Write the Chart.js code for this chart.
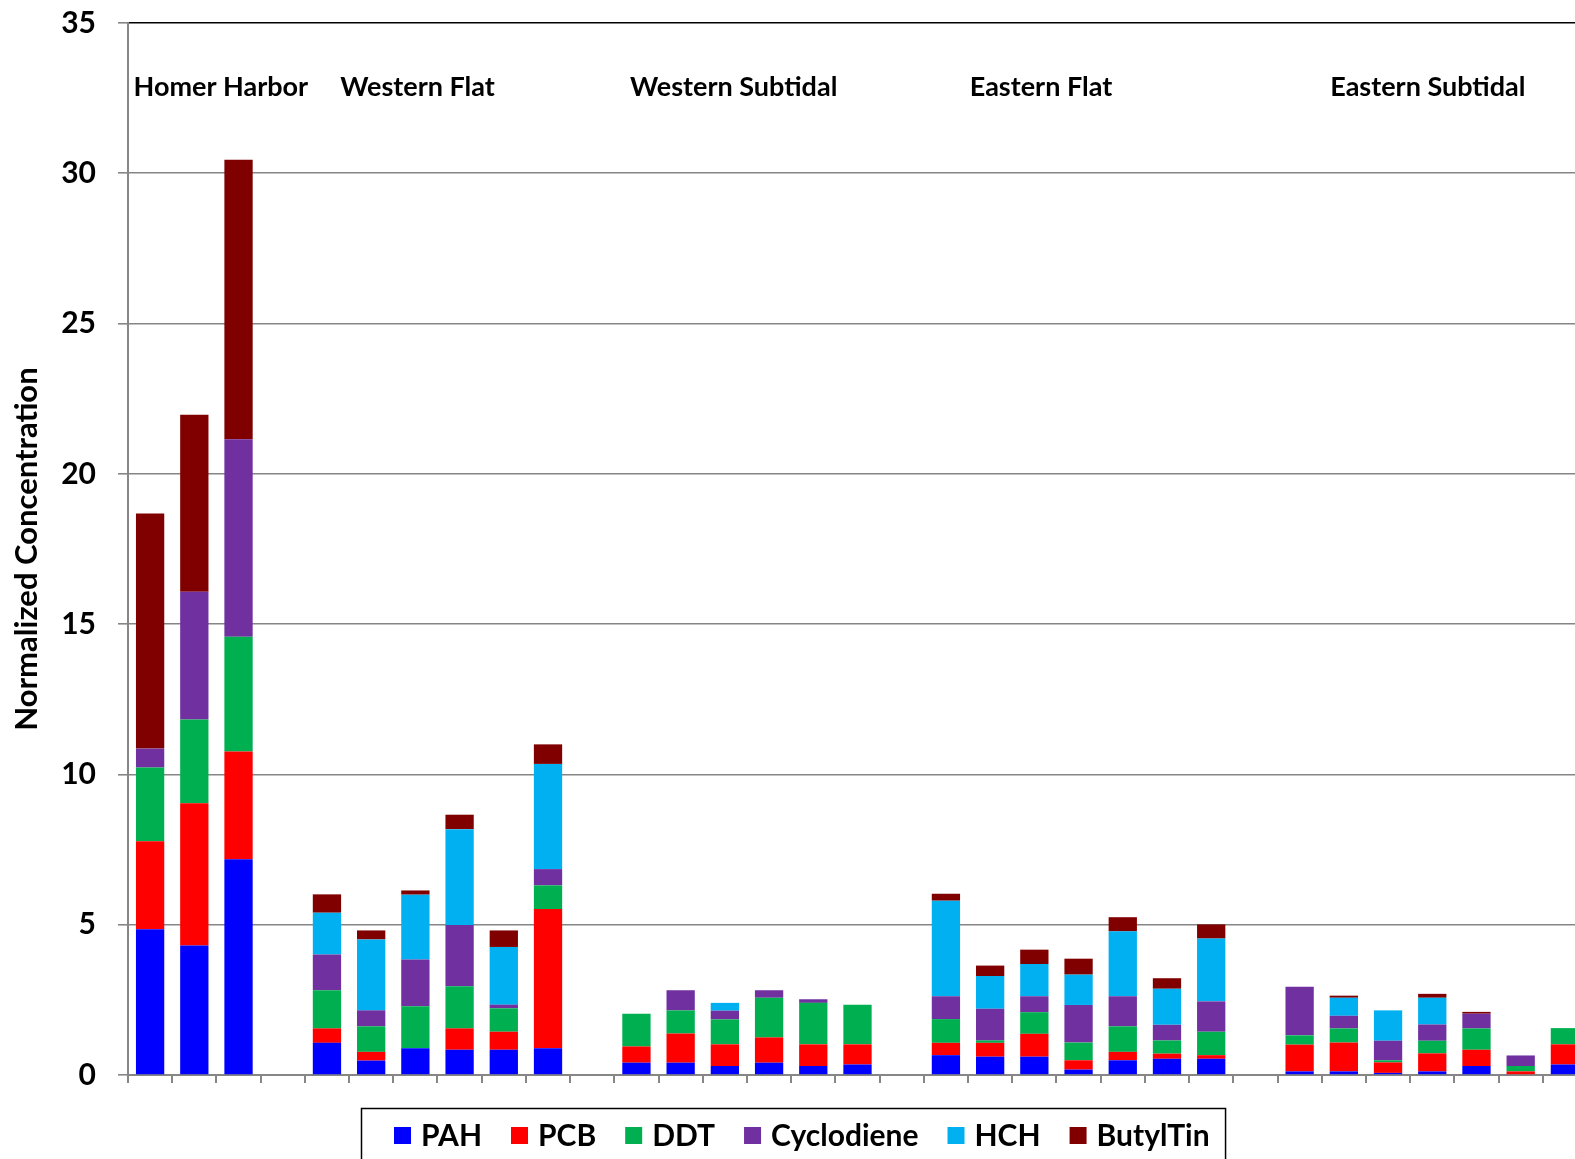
<!DOCTYPE html>
<html>
<head>
<meta charset="utf-8">
<script src="https://cdn.jsdelivr.net/npm/chart.js@4.4.1/dist/chart.umd.min.js"></script>
<style>
  html, body { margin: 0; padding: 0; background: #fff; overflow: hidden; }
  #wrap { width: 1600px; height: 1175px; }
</style>
</head>
<body>
<div id="wrap"><canvas id="chart" width="1600" height="1175"></canvas></div>
<script>
// sample slots; empty strings are the gaps between sites
const labels = [
    'HH1', 'HH2', 'HH3', '',
    'WF1', 'WF2', 'WF3', 'WF4', 'WF5', 'WF6', '',
    'WS1', 'WS2', 'WS3', 'WS4', 'WS5', 'WS6', '',
    'EF1', 'EF2', 'EF3', 'EF4', 'EF5', 'EF6', 'EF7', '',
    'ES1', 'ES2', 'ES3', 'ES4', 'ES5', 'ES6', 'ES7'
];

const groupNames = ['Homer Harbor', 'Western Flat', 'Western Subtidal', 'Eastern Flat', 'Eastern Subtidal'];

const pah = [4.85, 4.31, 7.18, null,
    1.07, 0.48, 0.89, 0.84, 0.84, 0.89, null,
    0.41, 0.41, 0.30, 0.41, 0.30, 0.35, null,
    0.66, 0.61, 0.61, 0.18, 0.49, 0.54, 0.54, null,
    0.12, 0.12, 0.07, 0.12, 0.30, 0, 0.35];
const pcb = [2.93, 4.73, 3.58, null,
    0.48, 0.29, 0, 0.71, 0.60, 4.63, null,
    0.54, 0.97, 0.72, 0.84, 0.72, 0.67, null,
    0.41, 0.46, 0.76, 0.31, 0.28, 0.17, 0.12, null,
    0.89, 0.96, 0.35, 0.60, 0.54, 0.12, 0.67];
const ddt = [2.45, 2.79, 3.82, null,
    1.27, 0.85, 1.40, 1.40, 0.78, 0.79, null,
    1.09, 0.77, 0.83, 1.32, 1.38, 1.32, null,
    0.79, 0.08, 0.72, 0.59, 0.85, 0.44, 0.78, null,
    0.31, 0.47, 0.07, 0.42, 0.71, 0.18, 0.54];
const cyclodiene = [0.63, 4.25, 6.57, null,
    1.19, 0.53, 1.55, 2.04, 0.12, 0.54, null,
    0, 0.67, 0.29, 0.25, 0.12, 0, null,
    0.76, 1.05, 0.53, 1.25, 1.00, 0.52, 1.01, null,
    1.62, 0.42, 0.65, 0.54, 0.49, 0.35, 0];
const hch = [0, 0, 0, null,
    1.39, 2.36, 2.16, 3.19, 1.92, 3.50, null,
    0, 0, 0.26, 0, 0, 0, null,
    3.18, 1.09, 1.07, 1.01, 2.16, 1.20, 2.09, null,
    0, 0.60, 1.01, 0.89, 0, 0, 0];
const butylTin = [7.82, 5.89, 9.30, null,
    0.61, 0.30, 0.14, 0.48, 0.55, 0.65, null,
    0, 0, 0, 0, 0, 0, null,
    0.23, 0.35, 0.48, 0.53, 0.47, 0.35, 0.47, null,
    0, 0.07, 0, 0.13, 0.06, 0, 0];

const yTicks = [0, 5, 10, 15, 20, 25, 30, 35];

const FONT = 'Lato, "DejaVu Sans", sans-serif';
const AXIS_GRAY = '#868686';

// where each site name sits, in category units
const groupLabelAt = [1.6, 6.05, 13.2, 20.15, 28.9];

const groupLabels = {
    id: 'groupLabels',
    afterDraw(chart) {
        const ctx = chart.ctx;
        const x = chart.scales.x;
        ctx.save();
        ctx.font = 'bold 27px ' + FONT;
        ctx.fillStyle = '#000';
        ctx.textAlign = 'center';
        ctx.textBaseline = 'middle';
        groupNames.forEach((name, i) => {
            ctx.fillText(name, x.getPixelForValue(groupLabelAt[i]), 87);
        });
        ctx.restore();
    }
};

const boxLegend = {
    id: 'boxLegend',
    afterDraw(chart) {
        const ctx = chart.ctx;
        const y = 1135;
        let cursor = 394;
        ctx.save();
        ctx.font = 'bold 30px ' + FONT;
        ctx.textBaseline = 'middle';
        chart.data.datasets.forEach(ds => {
            ctx.fillStyle = ds.backgroundColor;
            ctx.fillRect(cursor, y - 8, 17, 17);
            cursor += 27;
            ctx.fillStyle = '#000';
            ctx.fillText(ds.label, cursor, y + 1);
            cursor += ctx.measureText(ds.label).width + 29;
        });
        ctx.strokeStyle = '#000';
        ctx.lineWidth = 1.5;
        ctx.strokeRect(361.5, 1108.5, cursor - 29 + 16 - 361.5, 120);
        ctx.restore();
    }
};

function series(label, data, color) {
    return {
        label,
        data,
        backgroundColor: color,
        borderWidth: 0,
        barPercentage: 0.64,
        categoryPercentage: 1.0
    };
}

new Chart(document.getElementById('chart').getContext('2d'), {
    type: 'bar',
    data: {
        labels,
        datasets: [
            series('PAH', pah, '#0000ff'),
            series('PCB', pcb, '#ff0000'),
            series('DDT', ddt, '#00b050'),
            series('Cyclodiene', cyclodiene, '#7030a0'),
            series('HCH', hch, '#00b0f0'),
            series('ButylTin', butylTin, '#800000')
        ]
    },
    options: {
        responsive: false,
        animation: false,
        layout: { padding: { top: 23, left: 0, right: 13, bottom: 0 } },
        plugins: {
            legend: { display: false },
            tooltip: { enabled: false }
        },
        scales: {
            x: {
                stacked: true,
                ticks: { display: false },
                grid: {
                    display: true,
                    offset: true,
                    drawOnChartArea: false,
                    drawTicks: true,
                    tickLength: 8,
                    color: AXIS_GRAY,
                    lineWidth: 2
                },
                border: { display: true, color: AXIS_GRAY, width: 2 },
                afterFit: s => {
                    s.height = 100;
                    s.paddingLeft = 0;
                    s.paddingRight = 0;
                }
            },
            y: {
                stacked: true,
                min: 0,
                max: 35,
                afterBuildTicks: s => { s.ticks = yTicks.map(v => ({ value: v })); },
                ticks: {
                    padding: 22,
                    color: '#000',
                    font: { family: FONT, size: 30, weight: 'bold' }
                },
                grid: {
                    color: c => (c.tick && c.tick.value === 35 ? '#000' : AXIS_GRAY),
                    tickColor: AXIS_GRAY,
                    tickLength: 10,
                    lineWidth: 1.6
                },
                border: { display: true, color: AXIS_GRAY, width: 2 },
                title: {
                    display: true,
                    text: 'Normalized Concentration',
                    color: '#000',
                    font: { family: FONT, size: 31, weight: 'bold' },
                    padding: { top: 8, bottom: 0 }
                },
                afterFit: s => {
                    s.width = 128;
                    s.paddingTop = 0;
                    s.paddingBottom = 0;
                }
            }
        }
    },
    plugins: [groupLabels, boxLegend]
});
</script>
</body>
</html>
